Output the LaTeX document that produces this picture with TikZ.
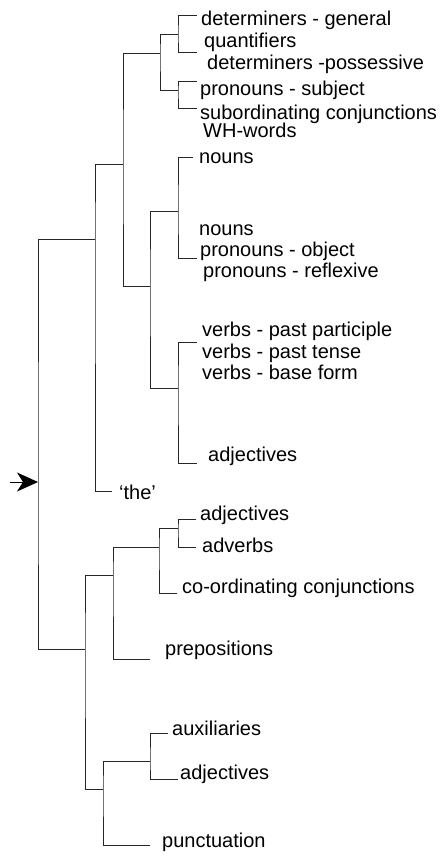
\documentclass[tikz,border=0pt]{standalone}
\usepackage{fontspec}
\setmainfont{Liberation Sans}
\usetikzlibrary{arrows.meta}
\begin{document}
\begin{tikzpicture}[x=1pt,y=-1pt,
  edge/.style={draw=black!85,line width=1pt},
  lbl/.style={anchor=base west,inner sep=0pt,font=\fontsize{20}{24}\selectfont}]
\useasboundingbox (0,0) rectangle (443,857);
% leaf tips
\coordinate (L1) at (197,15);
\coordinate (L2) at (197,52);
\coordinate (L3) at (197,81);
\coordinate (L4) at (197,108);
\coordinate (LN1) at (193,157);
\coordinate (LN2) at (197,258);
\coordinate (LV1) at (197,342);
\coordinate (LV2) at (197,463);
\coordinate (Lthe) at (112,491);
\coordinate (Ladj2) at (196,519);
\coordinate (Ladv) at (196,547);
\coordinate (Lcoord) at (177,593);
\coordinate (Lprep) at (150,659);
\coordinate (Laux) at (168,733);
\coordinate (Ladj3) at (178,779);
\coordinate (Lpunct) at (150,845);
% internal junctions
\coordinate (nA) at (178,34);
\coordinate (nB) at (178,90);
\coordinate (nAB) at (160,53);
\coordinate (nN) at (178,211);
\coordinate (nV) at (178,388);
\coordinate (nNV) at (150,286);
\coordinate (nTop) at (123,164);
\coordinate (nT) at (95,239);
\coordinate (root) at (38,482);
\coordinate (n85) at (85,649);
\coordinate (n113) at (113,575);
\coordinate (n159) at (159,547);
\coordinate (nC) at (178,528);
\coordinate (n103) at (103,789);
\coordinate (n150) at (150,761);
\coordinate (astart) at (10,482);
% connectors
\draw[edge] (L1) -| (nA) |- (L2);
\draw[edge] (L3) -| (nB) |- (L4);
\draw[edge] (nA) -| (nAB) |- (nB);
\draw[edge] (LN1) -| (nN) |- (LN2);
\draw[edge] (LV1) -| (nV) |- (LV2);
\draw[edge] (nN) -| (nNV) |- (nV);
\draw[edge] (nAB) -| (nTop) |- (nNV);
\draw[edge] (nTop) -| (nT) |- (Lthe);
\draw[edge] (nT) -| (root) |- (n85);
\draw[edge] (n113) -| (n85) |- (n103);
\draw[edge] (n159) -| (n113) |- (Lprep);
\draw[edge] (Ladj2) -| (nC) |- (Ladv);
\draw[edge] (nC) -| (n159) |- (Lcoord);
\draw[edge] (Laux) -| (n150) |- (Ladj3);
\draw[edge] (n150) -| (n103) |- (Lpunct);
\draw[line width=1pt,-{Stealth[length=21pt,width=19pt,inset=6pt]}] (astart) -- (root);
% labels
\node[lbl] (t1) at (201,25.7) {determiners - general};
\node[lbl] (t2) at (204,47.7) {quantifiers};
\node[lbl] (t3) at (207,69) {determiners -possessive};
\node[lbl] (t4) at (200,95.7) {pronouns - subject};
\node[lbl] (t5) at (200,119.3) {subordinating conjunctions};
\node[lbl] (t6) at (203,137.5) {WH-words};
\node[lbl] (t7) at (199,163.3) {nouns};
\node[lbl] (t8) at (199,235) {nouns};
\node[lbl] (t9) at (200,256.7) {pronouns - object};
\node[lbl] (t10) at (203,277.7) {pronouns - reflexive};
\node[lbl] (t11) at (202,336) {verbs - past participle};
\node[lbl] (t12) at (202,358.3) {verbs - past tense};
\node[lbl] (t13) at (202,379) {verbs - base form};
\node[lbl] (t14) at (208,461.7) {adjectives};
\node[lbl] (t15) at (119,499) {‘the’};
\node[lbl] (t16) at (200,520.7) {adjectives};
\node[lbl] (t17) at (202,552.3) {adverbs};
\node[lbl] (t18) at (182,593.3) {co-ordinating conjunctions};
\node[lbl] (t19) at (165,655.7) {prepositions};
\node[lbl] (t20) at (172,735) {auxiliaries};
\node[lbl] (t21) at (180,779) {adjectives};
\node[lbl] (t22) at (162,847.3) {punctuation};
\end{tikzpicture}
\end{document}
